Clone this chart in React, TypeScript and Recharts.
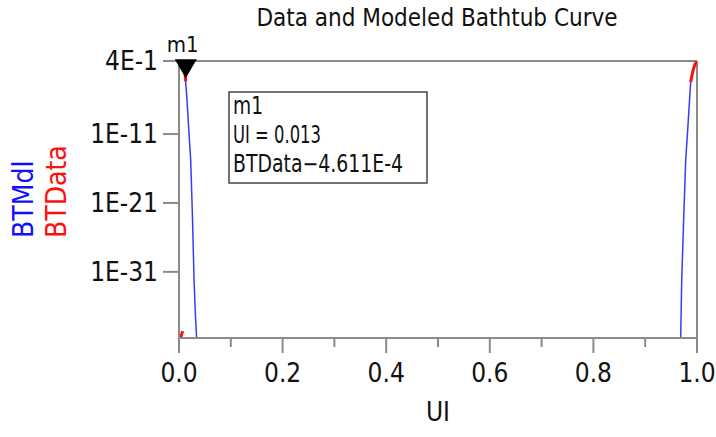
import { LineChart, Line, XAxis, YAxis, ReferenceLine, ReferenceDot } from 'recharts'

const FONT = "'DejaVu Sans Condensed', 'Liberation Sans Narrow', 'Arial Narrow', sans-serif"
const AXIS = '#8a8a8a'
const BLUE = '#3a3aff'
const RED = '#ff1010'

// x axis: UI from 0 to 1, majors labelled every 0.2
const uiTicks = [0, 0.1, 0.2, 0.3, 0.4, 0.5, 0.6, 0.7, 0.8, 0.9, 1.0]
// y axis is log10 of the bit error ratio
const logTicks = [-0.4, -11, -21, -31]
const logTickLabels = ['4E-1', '1E-11', '1E-21', '1E-31']

// BTMdl, left wall
const mdlLeftUi = [0.0105, 0.011, 0.0125, 0.0154, 0.019, 0.0226, 0.026, 0.029, 0.0318, 0.034, 0.035]
const mdlLeftLog = [0.0, -1.0, -3.0, -6.0, -10.5, -14.8, -23.0, -32.0, -37.5, -40.6, -42.0]
// BTMdl, right wall
const mdlRightUi = [0.9878, 0.9826, 0.9782, 0.974, 0.9705, 0.9685, 0.968]
const mdlRightLog = [-3.45, -9.7, -14.8, -24.0, -32.2, -40.6, -42.0]
// BTData, left wall
const dataLeftUi = [0.0, 0.0035, 0.007]
const dataLeftLog = [-41.5, -40.5, -39.6]
const dataLeftTopUi = [0.0112, 0.012, 0.013]
const dataLeftTopLog = [-1.5, -2.4, -3.34]
// BTData, right wall
const dataRightUi = [0.9878, 0.99, 0.993, 0.996, 1.0]
const dataRightLog = [-3.45, -2.6, -1.6, -0.9, -0.4]

// marker m1
const m1Ui = 0.013
const m1Log = -3.34

const zip = (xs: number[], ys: number[]) => xs.map((ui, i) => ({ ui, v: ys[i] }))

function UiTick(props: any) {
  const { x, y, payload } = props
  const v = payload.value as number
  const major = Math.round(v * 10) % 2 === 0
  return (
    <g>
      <line x1={x} x2={x} y1={y} y2={y + (major ? 15 : 9)} stroke={AXIS} strokeWidth={2} />
      {major && (
        <text x={x} y={y + 44} textAnchor="middle" fontSize={26} fontFamily={FONT} fill="#111">
          {v.toFixed(1)}
        </text>
      )}
    </g>
  )
}

function YLabels() {
  const base = 238
  return (
    <g fontFamily={FONT} fontSize={28}>
      <text x={33} y={base} transform={`rotate(-90 33 ${base})`} fill="#1010ff">
        BTMdl
      </text>
      <text x={66} y={base} transform={`rotate(-90 66 ${base})`} fill="#ff1010">
        BTData
      </text>
    </g>
  )
}

function Marker(props: any) {
  const { cx, cy } = props
  return (
    <g>
      <polygon points={`${cx - 11},${cy - 22} ${cx + 11},${cy - 22} ${cx},${cy - 3}`} fill="#000" />
      <text x={cx - 3} y={cy - 29} textAnchor="middle" fontSize={22} fontFamily={FONT} fill="#111">
        m1
      </text>
    </g>
  )
}

export default function App() {
  return (
    <div style={{ position: 'absolute', left: 0, top: 0, width: 716, height: 437, background: '#fff' }}>
      <LineChart width={716} height={437} margin={{ top: 61, right: 19, bottom: 0, left: 0 }}>
        <XAxis
          type="number"
          dataKey="ui"
          domain={[0, 1]}
          ticks={uiTicks}
          allowDataOverflow
          height={99}
          tickSize={0}
          tickMargin={0}
          tickLine={false}
          tick={<UiTick />}
          stroke={AXIS}
          strokeWidth={2}
          label={{ value: 'UI', position: 'insideBottom', offset: 16, fontSize: 26, fontFamily: FONT, fill: '#111' }}
        />
        <YAxis
          type="number"
          dataKey="v"
          domain={[-40.6, -0.4]}
          ticks={logTicks}
          allowDataOverflow
          width={179}
          tickSize={16}
          tickMargin={5}
          tickFormatter={(v: number) => logTickLabels[logTicks.indexOf(v)]}
          tick={{ fontSize: 26, fontFamily: FONT, fill: '#111' }}
          stroke={AXIS}
          strokeWidth={2}
          label={<YLabels />}
        />
        <ReferenceLine y={-0.4} stroke={AXIS} strokeWidth={2} />
        <ReferenceLine x={1} stroke={AXIS} strokeWidth={2} />
        <Line data={zip(mdlLeftUi, mdlLeftLog)} dataKey="v" stroke={BLUE} strokeWidth={1.5} dot={false} isAnimationActive={false} />
        <Line data={zip(mdlRightUi, mdlRightLog)} dataKey="v" stroke={BLUE} strokeWidth={1.5} dot={false} isAnimationActive={false} />
        <Line data={zip(dataLeftUi, dataLeftLog)} dataKey="v" stroke={RED} strokeWidth={3} dot={false} isAnimationActive={false} />
        <Line data={zip(dataLeftTopUi, dataLeftTopLog)} dataKey="v" stroke={RED} strokeWidth={3} dot={false} isAnimationActive={false} />
        <Line data={zip(dataRightUi, dataRightLog)} dataKey="v" stroke={RED} strokeWidth={3} dot={false} isAnimationActive={false} />
        <ReferenceDot x={m1Ui} y={m1Log} r={0} shape={<Marker />} />
      </LineChart>
      <svg
        width={716}
        height={437}
        style={{ position: 'absolute', left: 0, top: 0, pointerEvents: 'none' }}
        fontFamily={FONT}
      >
        <text x={437} y={26} textAnchor="middle" fontSize={24} fill="#111">
          Data and Modeled Bathtub Curve
        </text>
        <rect x={229} y={92} width={198} height={91} fill="#fff" stroke="#444" strokeWidth={1.5} />
        <text x={233} y={114} fontSize={24} fill="#111" textLength={30} lengthAdjust="spacingAndGlyphs">m1</text>
        <text x={233} y={143} fontSize={24} fill="#111" textLength={88} lengthAdjust="spacingAndGlyphs">UI = 0.013</text>
        <text x={233} y={172} fontSize={24} fill="#111" textLength={170} lengthAdjust="spacingAndGlyphs">BTData−4.611E-4</text>
      </svg>
    </div>
  )
}
